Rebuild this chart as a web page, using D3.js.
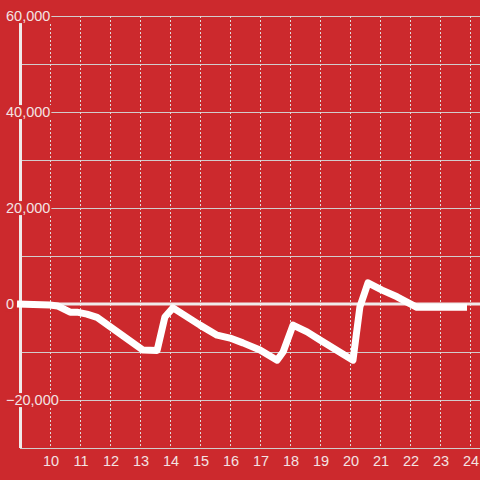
<!DOCTYPE html>
<html>
<head>
<meta charset="utf-8">
<script src="https://cdn.jsdelivr.net/npm/d3@7"></script>
<style>
html,body{margin:0;padding:0;background:#cc292d;}
svg{display:block;}
text{font-family:"Liberation Sans",Arial,sans-serif;}
</style>
</head>
<body>
<svg id="chart" width="480" height="480"></svg>
<script>
const hours = [8.9, 10, 10.25, 10.67, 10.9, 11.23, 11.57, 13.1, 13.57, 13.83, 14.1, 15, 15.57, 16, 16.43, 17, 17.57, 17.77, 18.1, 18.57, 19, 20.1, 20.33, 20.6, 21.07, 21.57, 22.23, 23.9];
const values = [0, -200, -400, -1700, -1700, -2100, -2800, -9600, -9700, -2700, -800, -4400, -6500, -7100, -8100, -9600, -11700, -10000, -4400, -5800, -7500, -11700, -600, 4400, 2900, 1500, -700, -700];
const xTicks = [10, 11, 12, 13, 14, 15, 16, 17, 18, 19, 20, 21, 22, 23, 24];
const yGrid = [60000, 50000, 40000, 30000, 20000, 10000, 0, -10000, -20000, -30000];
const yLabels = [60000, 40000, 20000, 0, -20000];

const bg = "#cc292d";
const textColor = "#f3e3e3";
const svg = d3.select("#chart");
const x = d3.scaleLinear().domain([9, 24]).range([20, 470]);
const y = d3.scaleLinear().domain([-30000, 60000]).range([448, 16]);

svg.append("rect").attr("width", 480).attr("height", 480).attr("fill", bg);

// horizontal grid
svg.append("g").selectAll("line").data(yGrid.filter(d => d !== 0)).join("line")
  .attr("x1", 20).attr("x2", 480)
  .attr("y1", d => y(d)).attr("y2", d => y(d))
  .attr("stroke", "#d2cccc").attr("stroke-width", 1).attr("shape-rendering", "crispEdges");

// vertical dashed grid
svg.append("g").selectAll("line").data(xTicks).join("line")
  .attr("x1", d => x(d)).attr("x2", d => x(d))
  .attr("y1", y(60000)).attr("y2", y(-30000))
  .attr("stroke", "#e0dada").attr("stroke-width", 1)
  .attr("stroke-dasharray", "2,2").attr("shape-rendering", "crispEdges");

// y axis line
svg.append("line").attr("x1", 20.5).attr("x2", 20.5).attr("y1", y(60000)).attr("y2", y(-30000))
  .attr("stroke", "#f0eaea").attr("stroke-width", 3);

// zero line
svg.append("line").attr("x1", 17).attr("x2", 480).attr("y1", y(0)).attr("y2", y(0))
  .attr("stroke", "#f0eaea").attr("stroke-width", 3);

// data line
const line = d3.line().x((d, i) => x(hours[i])).y(d => y(d));
svg.append("path").datum(values).attr("d", line)
  .attr("fill", "none").attr("stroke", "#ffffff").attr("stroke-width", 7)
  .attr("stroke-linejoin", "round").attr("stroke-linecap", "butt");

// y labels with background
const fmt = d3.format(",");
const yl = svg.append("g").selectAll("g").data(yLabels).join("g");
yl.each(function(d) {
  const g = d3.select(this);
  const t = g.append("text").attr("x", 6).attr("y", y(d)).attr("dy", "0.35em")
    .attr("font-size", "14.5px").attr("fill", textColor).text(fmt(d));
  const b = t.node().getBBox();
  g.insert("rect", "text").attr("x", b.x - 1).attr("y", b.y + 1).attr("width", b.width + 2).attr("height", b.height - 2).attr("fill", bg);
});

// x labels
svg.append("g").selectAll("text").data(xTicks).join("text")
  .attr("x", d => x(d) + 1).attr("y", 466)
  .attr("text-anchor", "middle").attr("font-size", "14.5px").attr("fill", textColor)
  .text(d => d);
</script>
</body>
</html>
